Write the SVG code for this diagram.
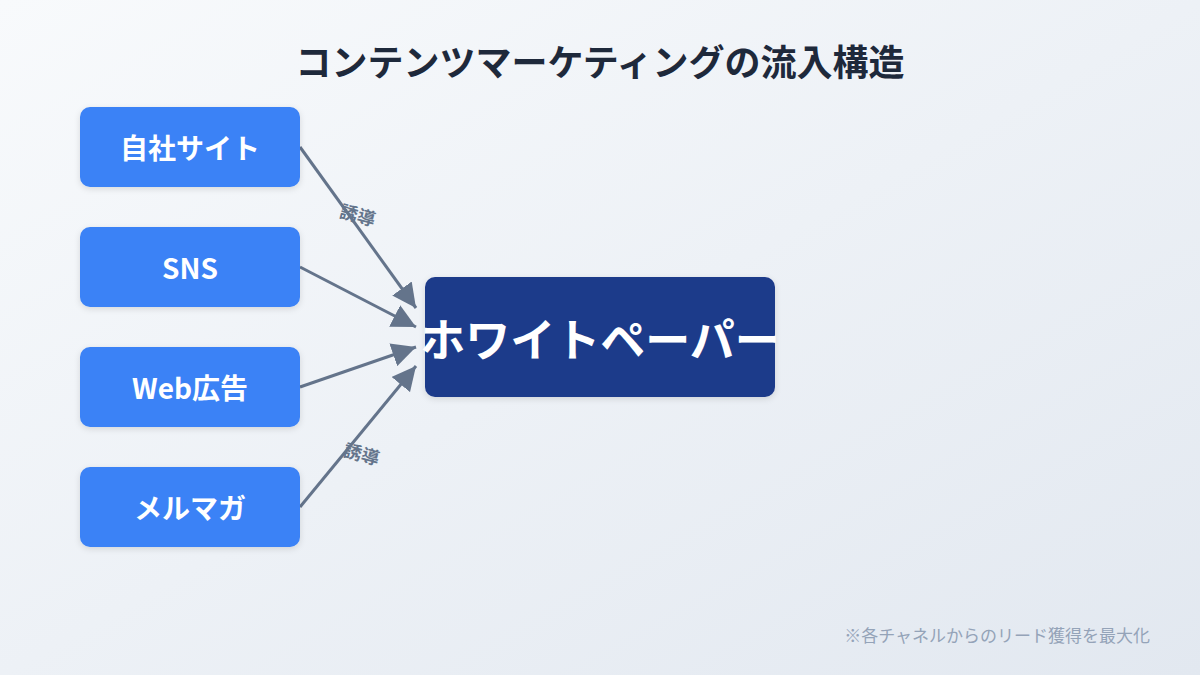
<svg xmlns="http://www.w3.org/2000/svg" width="1200" height="675" viewBox="0 0 1200 675">
<defs>
<linearGradient id="bg" x1="0" y1="0" x2="1" y2="1"><stop offset="0" stop-color="#f8fafc"/><stop offset="1" stop-color="#e2e8f0"/></linearGradient>
<marker id="ar" viewBox="0 0 10 10" refX="10" refY="5" markerWidth="8" markerHeight="8" orient="auto" markerUnits="strokeWidth"><path d="M0,0L10,5L0,10z" fill="#64748b"/></marker>
<filter id="sh" x="-10%" y="-10%" width="120%" height="130%"><feDropShadow dx="0" dy="2" stdDeviation="3" flood-color="#000" flood-opacity="0.12"/></filter>
<style>
text{font-family:"Noto Sans CJK JP","Noto Sans",sans-serif;font-weight:bold;text-anchor:middle;dominant-baseline:central}
.s{fill:#3b82f6}
.st{fill:#fff;font-size:28px}
.e{stroke:#64748b;stroke-width:3;fill:none;marker-end:url(#ar)}
.l{fill:#64748b;font-size:18px}
</style>
</defs>
<rect width="1200" height="675" fill="url(#bg)"/>
<text x="600" y="60" font-size="36" fill="#1e293b">コンテンツマーケティングの流入構造</text>
<g id="edges">
<path class="e" d="M300,147L416,308"/>
<path class="e" d="M300,267L416,327"/>
<path class="e" d="M300,387L416,347"/>
<path class="e" d="M300,507L416,366"/>
<text class="l" transform="translate(358,214) rotate(15)">誘導</text>
<text class="l" transform="translate(362,453) rotate(15)">誘導</text>
</g>
<g id="n1"><rect class="s" x="80" y="107" width="220" height="80" rx="10" filter="url(#sh)"/><text class="st" x="190" y="147">自社サイト</text></g>
<g id="n2"><rect class="s" x="80" y="227" width="220" height="80" rx="10" filter="url(#sh)"/><text class="st" x="190" y="267">SNS</text></g>
<g id="n3"><rect class="s" x="80" y="347" width="220" height="80" rx="10" filter="url(#sh)"/><text class="st" x="190" y="387">Web広告</text></g>
<g id="n4"><rect class="s" x="80" y="467" width="220" height="80" rx="10" filter="url(#sh)"/><text class="st" x="190" y="507">メルマガ</text></g>
<g id="wp"><rect x="425" y="277" width="350" height="120" rx="10" fill="#1e3a8a" filter="url(#sh)"/><text x="600" y="337" font-size="45" fill="#fff">ホワイトペーパー</text></g>
<text x="1150" y="634" font-size="17" style="font-weight:normal;text-anchor:end" fill="#94a3b8">※各チャネルからのリード獲得を最大化</text>
</svg>
